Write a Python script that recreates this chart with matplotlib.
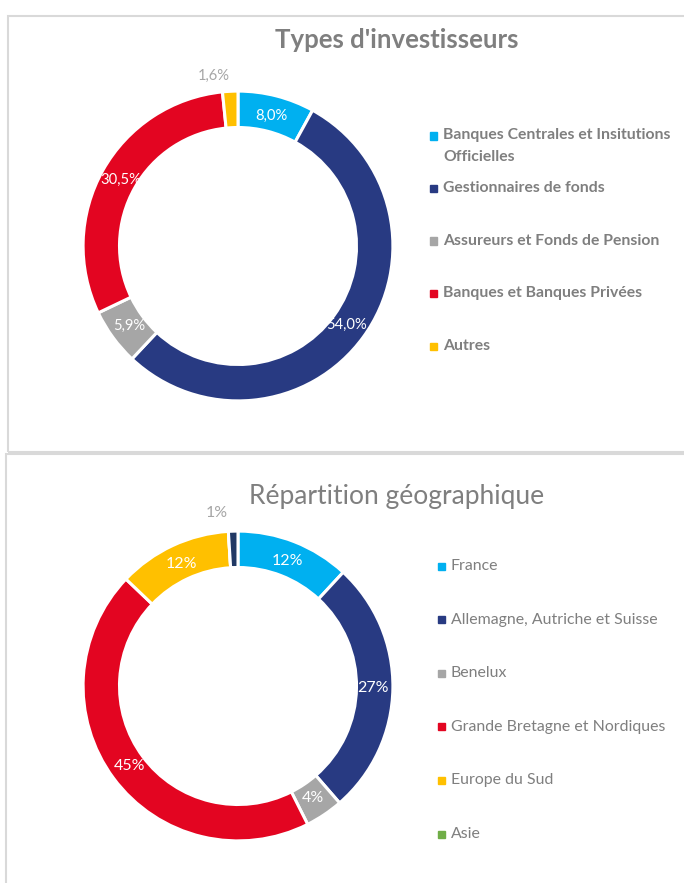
import numpy as np
import matplotlib
matplotlib.use("Agg")
import matplotlib.pyplot as plt
from matplotlib.patches import Rectangle

plt.rcParams['font.family'] = ['Lato', 'DejaVu Sans']

# Data - top chart
inv_labels = ["Banques Centrales et Insitutions\nOfficielles", "Gestionnaires de fonds",
              "Assureurs et Fonds de Pension", "Banques et Banques Privées", "Autres"]
inv_values = [8.0, 54.0, 5.9, 30.5, 1.6]
inv_colors = ["#00B0F0", "#283A82", "#A6A6A6", "#E30521", "#FFC000"]

# Data - bottom chart (last slice has no legend entry)
geo_labels = ["France", "Allemagne, Autriche et Suisse", "Benelux",
              "Grande Bretagne et Nordiques", "Europe du Sud", "Asie"]
geo_values = [12, 27, 4, 45, 12, 0, 1]
geo_colors = ["#00B0F0", "#283A82", "#A6A6A6", "#E30521", "#FFC000", "#70AD47", "#203864"]

W, H = 684, 883
GREY = "#7F7F7F"


def px_axes(fig, cx, cy, r):
    # axes box in pixel coords (origin top-left)
    return fig.add_axes([(cx - r) / W, (H - cy - r) / H, 2 * r / W, 2 * r / H])


def donut(ax, values, colors, fmt, fs):
    wedges, _, autotexts = ax.pie(
        values, colors=colors, startangle=90, counterclock=False,
        radius=1.0, autopct=fmt, pctdistance=0.87,
        wedgeprops=dict(width=0.235, edgecolor="white", linewidth=2.2),
        textprops=dict(color="white", fontsize=fs))
    ax.set_xlim(-1.02, 1.02)
    ax.set_ylim(-1.02, 1.02)
    ax.set_aspect("equal")
    ax.axis("off")
    return wedges, autotexts


def main():
    fig = plt.figure(figsize=(W / 100, H / 100), dpi=100)

    # panel frames
    fig.add_artist(Rectangle((8 / W, (H - 452) / H), 1.0, 436 / H, transform=fig.transFigure,
                             fill=False, edgecolor="#D9D9D9", linewidth=1.5))
    fig.add_artist(Rectangle((6 / W, -0.01), 1.0, (H - 454) / H + 0.01, transform=fig.transFigure,
                             fill=False, edgecolor="#D9D9D9", linewidth=1.5))

    # top donut
    ax1 = px_axes(fig, 238, 246, 158)
    fmt1 = lambda p: f"{p:.1f}%".replace(".", ",")
    w1, t1 = donut(ax1, inv_values, inv_colors, fmt1, 10.6)
    # small slice label sits outside
    t1[-1].set_color("#A6A6A6")
    th = np.deg2rad((w1[-1].theta1 + w1[-1].theta2) / 2)
    t1[-1].set_position((np.cos(th) * 1.15 - 0.1, np.sin(th) * 1.1))

    fig.text(397 / W, 1 - 40 / H, "Types d'investisseurs", ha="center", va="center",
             fontsize=18.5, fontweight="bold", color=GREY)

    # top legend
    y0 = 136
    for i, (lab, col) in enumerate(zip(inv_labels, inv_colors)):
        y = y0 + i * 52.5
        fig.add_artist(Rectangle((430 / W, 1 - (y + 3.5) / H), 7 / W, 7 / H,
                                 transform=fig.transFigure, color=col))
        if "\n" in lab:
            fig.text(443 / W, 1 - (y - 8) / H, lab, ha="left", va="top", fontsize=11.3,
                     fontweight="bold", color=GREY, linespacing=1.75)
        else:
            fig.text(443 / W, 1 - y / H, lab, ha="left", va="center", fontsize=11.3,
                     fontweight="bold", color=GREY)

    # bottom donut
    ax2 = px_axes(fig, 238, 686, 158)
    fmt2 = lambda p: f"{p * sum(geo_values) / 100:.0f}%"
    w2, t2 = donut(ax2, geo_values, geo_colors, fmt2, 11.5)
    t2[5].set_text("")
    t2[-1].set_color("#A6A6A6")
    th = np.deg2rad((w2[-1].theta1 + w2[-1].theta2) / 2)
    t2[-1].set_position((np.cos(th) * 1.15 - 0.1, np.sin(th) * 1.12))

    fig.text(397 / W, 1 - 497 / H, "Répartition géographique", ha="center", va="center",
             fontsize=19, color=GREY)

    # bottom legend
    y0 = 566
    for i, (lab, col) in enumerate(zip(geo_labels, geo_colors)):
        y = y0 + i * 53.6
        fig.add_artist(Rectangle((438 / W, 1 - (y + 3.5) / H), 7 / W, 7 / H,
                                 transform=fig.transFigure, color=col))
        fig.text(451 / W, 1 - y / H, lab, ha="left", va="center", fontsize=11.4,
                 color=GREY)

    fig.savefig("out.png", dpi=100)
    plt.close(fig)


if __name__ == "__main__":
    main()
